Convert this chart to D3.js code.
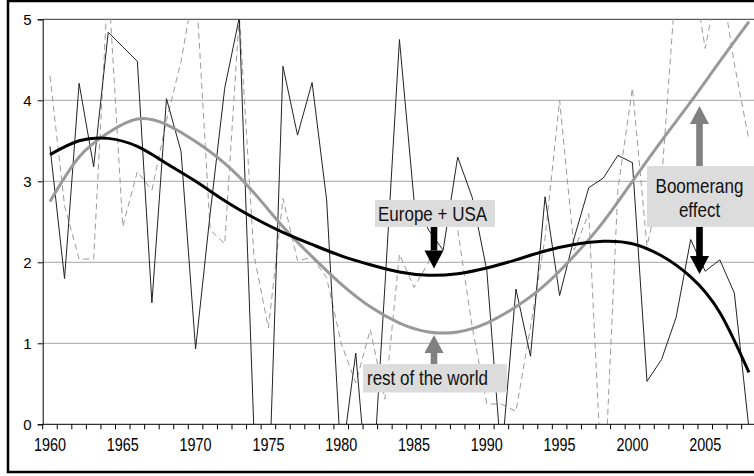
<html>
<head>
    <title>boomerang</title>
    <style>
        body {
            margin: 0;
            background: #fff;
        }
    </style>
</head>
<body>
    <script src="https://d3js.org/d3.v7.min.js"></script>
    <script>
        // years on the category axis
        var years = d3.range(1960, 2009);

        // thin solid line - Europe + USA (values below 0 / above 5 get clipped)
        var europeUsa = [3.43, 1.80, 4.21, 3.18, 4.84, 4.66, 4.48, 1.50, 4.02, 3.37,
            0.93, 2.60, 4.15, 5.02, -0.05, -1.00, 4.42, 3.57, 4.22, 2.77,
            -0.49, 0.88, -1.23, 1.70, 4.75, 2.77, 2.40, 2.15, 3.30, 2.80,
            1.90, -0.43, 1.67, 0.84, 2.81, 1.59, 2.30, 2.92, 3.04, 3.32,
            3.23, 0.53, 0.80, 1.32, 2.28, 1.89, 2.03, 1.62, -0.05];

        // thin dashed line - rest of the world
        var restWorld = [4.30, 2.70, 2.04, 2.04, 5.50, 2.44, 3.12, 2.89, 3.75, 4.48,
            5.50, 2.40, 2.23, 5.05, 2.10, 1.19, 2.79, 2.02, 2.06, 1.81,
            1.00, 0.51, 1.17, 0.31, 2.10, 1.69, 2.00, 2.77, 2.40, 1.20,
            0.25, 0.25, 0.16, 1.20, 2.30, 4.00, 2.15, 2.60, -1.10, 2.90,
            4.15, 2.20, 3.00, 5.50, 5.75, 4.64, 5.58, 4.45, 3.51];

        // trend curves, read every two years
        var trendYears = d3.range(1960, 2009, 2);
        var europeTrend = [3.33, 3.50, 3.53, 3.43, 3.22, 3.00, 2.76, 2.55, 2.37, 2.22,
            2.08, 1.97, 1.88, 1.84, 1.86, 1.93, 2.03, 2.14, 2.22, 2.26,
            2.23, 2.08, 1.82, 1.38, 0.64];
        var restTrend = [2.75, 3.30, 3.60, 3.77, 3.70, 3.49, 3.22, 2.86, 2.44, 2.07,
            1.73, 1.45, 1.25, 1.14, 1.14, 1.25, 1.45, 1.72, 2.08, 2.50,
            3.00, 3.50, 3.98, 4.48, 4.97];

        var yTicks = [0, 1, 2, 3, 4, 5];
        var labelYears = d3.range(1960, 2009, 5);

        var w = 754,
            h = 476;
        var pLeft = 42.7, pRight = 756.2, pTop = 19.3, pBottom = 424.3;

        var svg = d3.select('body').append('svg')
            .attr('width', w).attr('height', h);

        var x = d3.scaleBand().domain(years).range([pLeft, pRight]).padding(0);
        var y = d3.scaleLinear().domain([0, 5]).range([pBottom, pTop]);
        var cx = function (yr) { return x(yr) + x.bandwidth() / 2; };

        svg.append('defs').append('clipPath').attr('id', 'plot')
            .append('rect')
            .attr('x', pLeft).attr('y', pTop)
            .attr('width', pRight - pLeft).attr('height', pBottom - pTop);

        // outer frame
        svg.append('rect')
            .attr('x', 8).attr('y', 1)
            .attr('width', 800).attr('height', 471)
            .attr('fill', 'none').attr('stroke', '#000').attr('stroke-width', 2.5);

        // gridlines
        svg.append('g').selectAll('line')
            .data(yTicks.filter(function (d) { return d > 0 && d < 5; }))
            .enter().append('line')
            .attr('x1', pLeft).attr('x2', pRight)
            .attr('y1', function (d) { return y(d); })
            .attr('y2', function (d) { return y(d); })
            .attr('stroke', '#a6a6a6').attr('stroke-width', 1);

        // top border of the plot area
        svg.append('line')
            .attr('x1', pLeft).attr('x2', pRight)
            .attr('y1', y(5)).attr('y2', y(5))
            .attr('stroke', '#333').attr('stroke-width', 1);

        var plot = svg.append('g').attr('clip-path', 'url(#plot)');

        var dataLine = d3.line()
            .x(function (d, i) { return cx(years[i]); })
            .y(function (d) { return y(d); });

        plot.append('path')
            .attr('d', dataLine(restWorld))
            .attr('fill', 'none').attr('stroke', '#9a9a9a')
            .attr('stroke-width', 1).attr('stroke-dasharray', '6,4');

        plot.append('path')
            .attr('d', dataLine(europeUsa))
            .attr('fill', 'none').attr('stroke', '#222')
            .attr('stroke-width', 1);

        var trendLine = d3.line()
            .x(function (d, i) { return cx(trendYears[i]); })
            .y(function (d) { return y(d); })
            .curve(d3.curveNatural);

        plot.append('path')
            .attr('d', trendLine(restTrend))
            .attr('fill', 'none').attr('stroke', '#999')
            .attr('stroke-width', 3);

        plot.append('path')
            .attr('d', trendLine(europeTrend))
            .attr('fill', 'none').attr('stroke', '#000')
            .attr('stroke-width', 3);

        var labelFont = '"Liberation Sans", Arial, sans-serif';

        // axes
        var xAxis = d3.axisBottom(x)
            .tickSize(5)
            .tickFormat(function (d) { return labelYears.indexOf(d) >= 0 ? d : ''; });
        var gx = svg.append('g')
            .attr('transform', 'translate(0,' + pBottom + ')')
            .call(xAxis);
        gx.select('.domain').remove();
        // excel style: ticks between categories
        gx.selectAll('.tick line')
            .attr('transform', 'translate(' + (-x.bandwidth() / 2) + ',0)')
            .attr('stroke', '#000');
        gx.selectAll('.tick text')
            .attr('y', 14)
            .attr('transform', 'scale(0.8,1)')
            .style('font-family', labelFont)
            .style('font-size', '18px')
            .attr('fill', '#000');
        svg.append('line')
            .attr('x1', pLeft).attr('x2', pRight)
            .attr('y1', pBottom).attr('y2', pBottom)
            .attr('stroke', '#000');

        var yAxis = d3.axisLeft(y).tickValues(yTicks).tickSize(5).tickFormat(d3.format('d'));
        var gy = svg.append('g')
            .attr('transform', 'translate(' + pLeft + ',0)')
            .call(yAxis);
        gy.select('.domain').attr('stroke', '#000');
        gy.selectAll('.tick line').attr('stroke', '#000');
        gy.selectAll('.tick text')
            .attr('x', -11)
            .style('font-family', labelFont)
            .style('font-size', '15px')
            .attr('fill', '#000');

        // annotations
        function label(tx, ty, txt, anchor) {
            svg.append('text')
                .attr('transform', 'translate(' + tx + ',' + ty + ') scale(0.85,1)')
                .attr('text-anchor', anchor || 'start')
                .style('font-family', labelFont).style('font-size', '20px')
                .attr('fill', '#111')
                .text(txt);
        }

        function arrow(xc, yFrom, yTip, color) {
            var dir = yTip > yFrom ? 1 : -1;
            var headLen = 18, headHalf = 9.5, shaft = 3.3;
            var yBase = yTip - dir * headLen;
            svg.append('rect')
                .attr('x', xc - shaft)
                .attr('y', Math.min(yFrom, yBase))
                .attr('width', shaft * 2)
                .attr('height', Math.abs(yBase - yFrom))
                .attr('fill', color);
            svg.append('path')
                .attr('d', 'M' + (xc - headHalf) + ',' + yBase + 'L' + (xc + headHalf) + ',' + yBase + 'L' + xc + ',' + yTip + 'Z')
                .attr('fill', color);
        }

        function box(x0, y0, bw, bh) {
            svg.append('rect')
                .attr('x', x0).attr('y', y0)
                .attr('width', bw).attr('height', bh)
                .attr('fill', '#dcdcdc');
        }

        var euX = 434;
        box(375, 200, 120, 27);
        label(378, 221, 'Europe + USA');
        arrow(euX, 227, 268.5, '#000');

        box(363, 364, 144, 28.5);
        label(367, 385, 'rest of the world');
        arrow(euX, 364, 335, '#808080');

        var bX = 699.5;
        box(647, 166, 110, 61);
        label(bX, 193, 'Boomerang', 'middle');
        label(bX, 217, 'effect', 'middle');
        arrow(bX, 166, 106, '#808080');
        arrow(bX, 227, 274, '#000');
    </script>
</body>
</html>
